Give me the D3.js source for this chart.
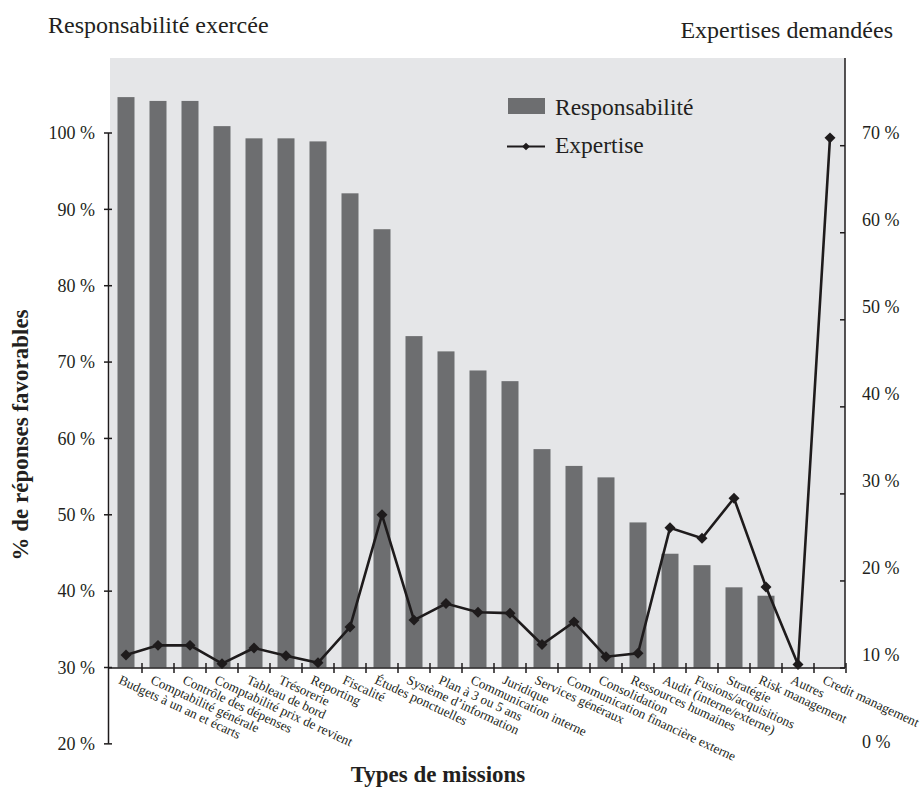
<!DOCTYPE html>
<html><head><meta charset="utf-8">
<script src="https://cdn.jsdelivr.net/npm/d3@7"></script>
<style>body{margin:0;background:#fff}svg{display:block}text{font-family:"Liberation Serif","Times New Roman",serif;fill:#231f20}</style>
</head><body>
<svg id="c" width="924" height="788"></svg>
<script>
const categories = ["Budgets à un an et écarts","Comptabilité générale","Contrôle des dépenses","Comptabilité prix de revient","Tableau de bord","Trésorerie","Reporting","Fiscalité","Études ponctuelles","Système d’information","Plan à 3 ou 5 ans","Communication interne","Juridique","Services généraux","Communication financière externe","Consolidation","Ressources humaines","Audit (interne/externe)","Fusions/acquisitions","Stratégie","Risk management","Autres","Credit management"];
const responsabilite = [104.7,104.2,104.2,100.9,99.3,99.3,98.9,92.1,87.4,73.4,71.4,68.9,67.5,58.6,56.4,54.9,49.0,44.9,43.4,40.5,39.4,null,null];
const expertise = [11.5,12.6,12.6,10.5,12.3,11.4,10.6,14.7,27.6,15.5,17.4,16.4,16.3,12.7,15.3,11.3,11.7,26.1,24.9,29.5,19.3,10.4,70.9];
const leftTicks = [20,30,40,50,60,70,80,90,100];
const rightTicks = [0,10,20,30,40,50,60,70];
const seriesNames = ["Responsabilité","Expertise"];
const titleLeft = "Responsabilité exercée", titleRight = "Expertises demandées";
const yTitle = "% de réponses favorables", xTitle = "Types de missions";

const svg = d3.select("#c");
const L = 110, R = 846, T = 58, B = 668;
const barColor = "#6d6e70", bg = "#e5e6e8", ink = "#1e1b1c";

const x = d3.scaleBand().domain(categories).range([L, R]).padding(0);
const yL = d3.scaleLinear().domain([30, 100]).range([667.5, 133]);
const yR = d3.scaleLinear().domain([10, 70]).range([668, 145.7]);

svg.append("rect").attr("x", L).attr("y", T).attr("width", 845 - L).attr("height", B - T).attr("fill", bg);

// bars
const bw = 17;
svg.append("g").selectAll("rect").data(categories.map((c,i)=>({c, v: responsabilite[i]})).filter(d=>d.v!=null))
  .join("rect")
  .attr("x", d => x(d.c) + x.bandwidth()/2 - bw/2)
  .attr("width", bw)
  .attr("y", d => yL(d.v))
  .attr("height", d => yL(30) - yL(d.v))
  .attr("fill", barColor);

// left axis
const gl = svg.append("g");
gl.append("line").attr("x1",108.5).attr("x2",108.5).attr("y1",yL(100)).attr("y2",yL(20)).attr("stroke",ink).attr("stroke-width",1.5);
gl.selectAll(".t").data(leftTicks).join("line").attr("x1",104).attr("x2",112).attr("y1",d=>yL(d)).attr("y2",d=>yL(d)).attr("stroke",ink).attr("stroke-width",1.5);
gl.selectAll("text").data(leftTicks).join("text").attr("x",95).attr("y",d=>yL(d)).attr("dy","0.35em").attr("text-anchor","end").attr("font-size",18).text(d=>d+" %");

// right axis
const gr = svg.append("g");
gr.append("line").attr("x1",845).attr("x2",845).attr("y1",T).attr("y2",B).attr("stroke",ink).attr("stroke-width",1.5);
gr.selectAll(".t").data(rightTicks.filter(d=>d>0)).join("line").attr("x1",840).attr("x2",845).attr("y1",d=>yR(d)).attr("y2",d=>yR(d)).attr("stroke",ink).attr("stroke-width",1.5);
gr.selectAll("text").data(rightTicks).join("text").attr("x",862).attr("y",d=>yR(d)-13).attr("dy","0.35em").attr("font-size",18).text(d=>d+" %");

// x axis
const gx = svg.append("g");
gx.append("line").attr("x1",108).attr("x2",845).attr("y1",B).attr("y2",B).attr("stroke",ink).attr("stroke-width",1.5);
gx.selectAll(".t").data(categories.slice(1).concat(["_end"])).join("line")
  .attr("x1",(d,i)=>L + x.step()*(i+1)).attr("x2",(d,i)=>L + x.step()*(i+1))
  .attr("y1",B-5).attr("y2",B+5).attr("stroke",ink).attr("stroke-width",1.5);
gx.selectAll("text").data(categories).join("text")
  .attr("transform", d => `translate(${x(d)+x.bandwidth()/2-4},${B+6}) rotate(25)`)
  .attr("dy","0.75em").attr("font-size",13.3).text(d=>d);

// line
const pts = categories.map((c,i)=>[x(c)+x.bandwidth()/2, yR(expertise[i])]);
svg.append("path").attr("d", d3.line()(pts)).attr("fill","none").attr("stroke",ink).attr("stroke-width",2.6).attr("stroke-linejoin","miter");
const diamond = d3.symbol().type(d3.symbolSquare).size(60);
svg.append("g").selectAll("path").data(pts).join("path")
  .attr("transform", d=>`translate(${d[0]},${d[1]}) rotate(45)`).attr("d", diamond).attr("fill",ink);

// legend
svg.append("rect").attr("x",508).attr("y",98).attr("width",37).attr("height",16).attr("fill",barColor);
svg.append("text").attr("x",555).attr("y",115).attr("font-size",23.5).text(seriesNames[0]);
svg.append("line").attr("x1",507).attr("x2",545).attr("y1",146.5).attr("y2",146.5).attr("stroke",ink).attr("stroke-width",2.2);
svg.append("path").attr("transform","translate(526,146.5) rotate(45)").attr("d", d3.symbol().type(d3.symbolSquare).size(30)()).attr("fill",ink);
svg.append("text").attr("x",555).attr("y",153).attr("font-size",23.5).text(seriesNames[1]);

// titles
svg.append("text").attr("x",48).attr("y",33).attr("font-size",24).text(titleLeft);
svg.append("text").attr("x",893).attr("y",38).attr("text-anchor","end").attr("font-size",24).text(titleRight);
svg.append("text").attr("transform","translate(28,435) rotate(-90)").attr("text-anchor","middle").attr("font-size",23).attr("font-weight","bold").text(yTitle);
svg.append("text").attr("x",438).attr("y",782).attr("text-anchor","middle").attr("font-size",23).attr("font-weight","bold").text(xTitle);
</script>
</body></html>
